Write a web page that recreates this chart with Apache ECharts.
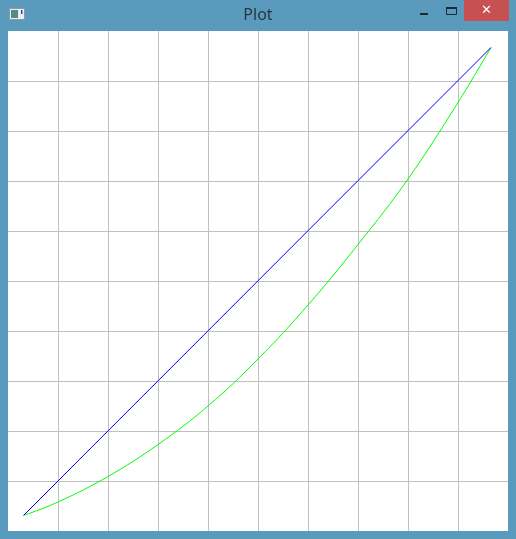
<!DOCTYPE html>
<html>
<head>
<meta charset="utf-8">
<title>Plot</title>
<script src="https://cdn.jsdelivr.net/npm/echarts@6/dist/echarts.min.js"></script>
<style>
  html, body { margin: 0; padding: 0; background: #5a9bbd; }
  #chart { width: 516px; height: 539px; }
</style>
</head>
<body>
<div id="chart"></div>
<script>
// values, in grid units (one grid cell = 1)
var blueX = [0.31, 9.66];
var blueY = [0.31, 9.67];
var greenX = [0.31, 1, 2, 3, 4, 5, 6, 7, 8, 9, 9.66];
var greenY = [0.31, 0.58, 1.09, 1.73, 2.5, 3.44, 4.52, 5.73, 7.04, 8.57, 9.67];
var titleText = 'Plot';

function pairs(xs, ys) {
  return xs.map(function (x, i) { return [x, ys[i]]; });
}

var chart = echarts.init(document.getElementById('chart'));

var frame = '#5a9bbd';

var option = {
  backgroundColor: frame,
  animation: false,
  grid: {
    left: 8,
    top: 31,
    width: 500,
    height: 500,
    show: true,
    backgroundColor: '#ffffff',
    borderWidth: 0
  },
  xAxis: {
    type: 'value',
    min: 0,
    max: 10,
    interval: 1,
    axisLine: { show: false },
    axisTick: { show: false },
    axisLabel: { show: false },
    splitLine: {
      show: true,
      showMinLine: false,
      showMaxLine: false,
      lineStyle: { color: '#c0c0c0', width: 1 }
    }
  },
  yAxis: {
    type: 'value',
    min: 0,
    max: 10,
    interval: 1,
    axisLine: { show: false },
    axisTick: { show: false },
    axisLabel: { show: false },
    splitLine: {
      show: true,
      showMinLine: false,
      showMaxLine: false,
      lineStyle: { color: '#c0c0c0', width: 1 }
    }
  },
  series: [
    {
      name: 'blue',
      type: 'line',
      data: pairs(blueX, blueY),
      showSymbol: false,
      lineStyle: { color: '#0000ff', width: 1 },
      z: 3
    },
    {
      name: 'green',
      type: 'line',
      smooth: 0.4,
      data: pairs(greenX, greenY),
      showSymbol: false,
      lineStyle: { color: '#00ff00', width: 1 },
      z: 2
    }
  ],
  graphic: [
    // window title
    {
      type: 'text',
      left: 'center',
      top: 7,
      style: {
        text: titleText,
        fill: '#2b3640',
        font: '16px "Noto Sans", "Open Sans", sans-serif'
      }
    },
    // app icon
    {
      type: 'rect',
      shape: { x: 9.5, y: 8.5, width: 15, height: 11 },
      style: { fill: '#e8eef2', stroke: '#8a9aa6', lineWidth: 1 }
    },
    {
      type: 'rect',
      shape: { x: 11, y: 10, width: 7, height: 8 },
      style: { fill: '#4f8f80' }
    },
    {
      type: 'rect',
      shape: { x: 21, y: 10, width: 1.5, height: 4 },
      style: { fill: '#2a4fb0' }
    },
    // minimize
    {
      type: 'rect',
      shape: { x: 420, y: 13, width: 8, height: 2 },
      style: { fill: '#1e2a33' }
    },
    // maximize
    {
      type: 'rect',
      shape: { x: 446.5, y: 7.5, width: 10, height: 7 },
      style: { fill: 'none', stroke: '#1e2a33', lineWidth: 1 }
    },
    {
      type: 'rect',
      shape: { x: 446, y: 7, width: 11, height: 2 },
      style: { fill: '#1e2a33' }
    },
    // close button
    {
      type: 'rect',
      shape: { x: 464, y: 0, width: 45, height: 21 },
      style: { fill: '#c75050' }
    },
    {
      type: 'text',
      x: 486.5,
      y: 11,
      style: {
        text: '✕',
        fill: '#ffffff',
        align: 'center',
        verticalAlign: 'middle',
        font: 'bold 13px "DejaVu Sans", sans-serif'
      }
    }
  ]
};

chart.setOption(option);
</script>
</body>
</html>
